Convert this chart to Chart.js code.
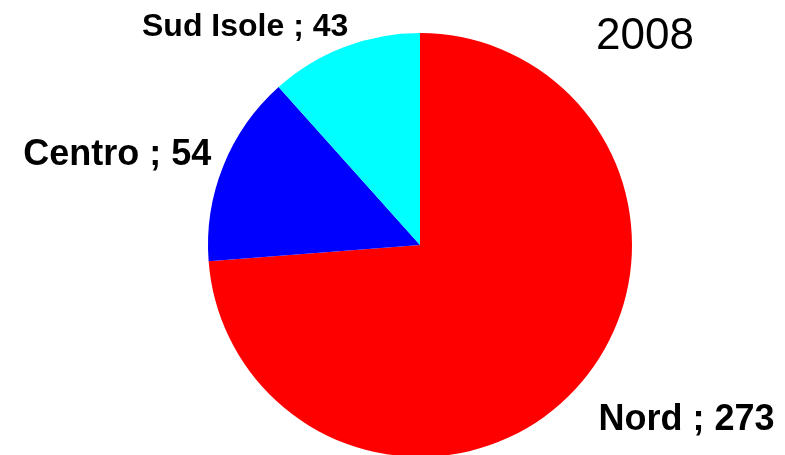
<!DOCTYPE html>
<html>
<head>
<meta charset="utf-8">
<script src="https://cdn.jsdelivr.net/npm/chart.js@4/dist/chart.umd.min.js"></script>
<style>
    html, body { margin: 0; padding: 0; background: #fff; overflow: hidden; }
    #wrap { width: 785px; height: 455px; overflow: hidden; }
</style>
</head>
<body>
<div id="wrap"><canvas id="pieChart" width="785" height="460"></canvas></div>
<script>
const regions = ['Nord', 'Centro', 'Sud Isole'];
const counts = [273, 54, 43];
const sliceColors = ['#ff0000', '#0000ff', '#00ffff'];
const year = '2008';

// label placement relative to the outer middle of each slice
const labelStyle = [
    { dx: 23, dy: 41, align: 'left', size: 36 },
    { dx: -12, dy: -1, align: 'right', size: 36 },
    { dx: 4, dy: -11, align: 'right', size: 32 }
];

const sliceLabels = {
    id: 'sliceLabels',
    afterDraw(chart) {
        const ctx = chart.ctx;
        const arcs = chart.getDatasetMeta(0).data;
        ctx.save();
        ctx.fillStyle = '#000';
        ctx.textBaseline = 'alphabetic';
        arcs.forEach(function (arc, i) {
            const mid = (arc.startAngle + arc.endAngle) / 2;
            const x = arc.x + Math.cos(mid) * arc.outerRadius;
            const y = arc.y + Math.sin(mid) * arc.outerRadius;
            const st = labelStyle[i];
            ctx.font = 'bold ' + st.size + 'px "Liberation Sans", Arial, sans-serif';
            ctx.textAlign = st.align;
            ctx.fillText(regions[i] + ' ; ' + counts[i], x + st.dx, y + st.dy);
        });
        ctx.font = '44px "Liberation Sans", Arial, sans-serif';
        ctx.textAlign = 'left';
        ctx.fillText(year, 596, 49);
        ctx.restore();
    }
};

new Chart(document.getElementById('pieChart').getContext('2d'), {
    type: 'pie',
    data: {
        labels: regions,
        datasets: [{
            data: counts,
            backgroundColor: sliceColors,
            borderWidth: 0
        }]
    },
    options: {
        responsive: false,
        animation: false,
        layout: { padding: { top: 33, bottom: 3, left: 55, right: 0 } },
        plugins: {
            legend: { display: false },
            tooltip: { enabled: false }
        }
    },
    plugins: [sliceLabels]
});
</script>
</body>
</html>
